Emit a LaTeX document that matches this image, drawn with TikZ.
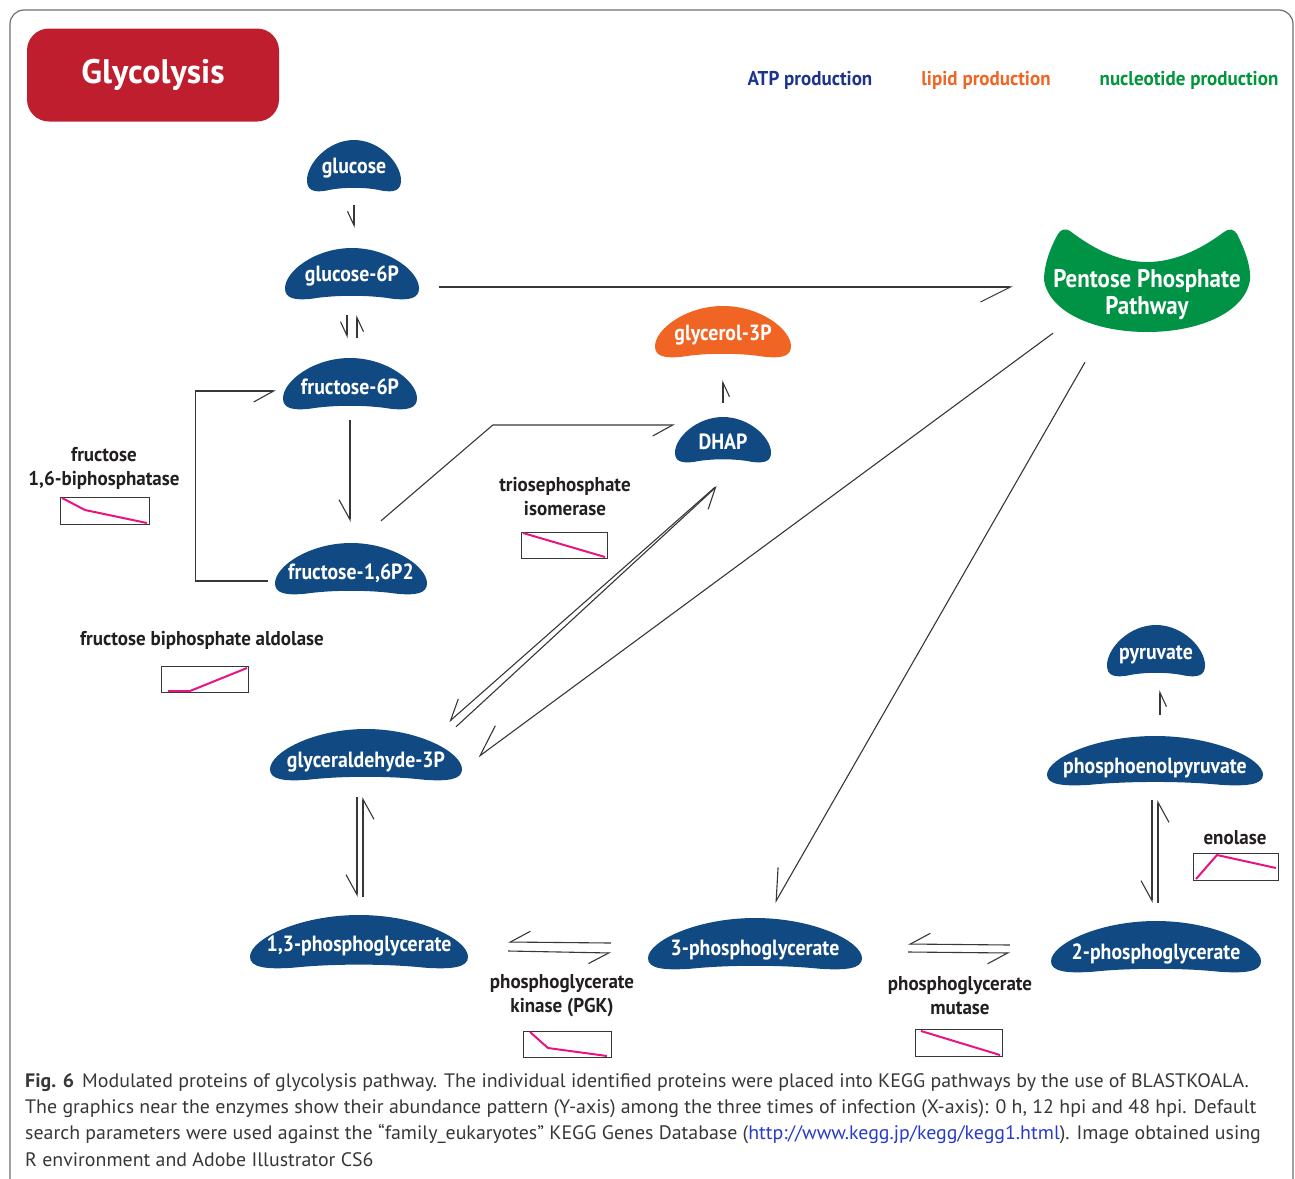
\documentclass[tikz,border=0pt]{standalone}
\usepackage{fontspec}
\setmainfont{PT Sans}
\newfontfamily\condf[FakeStretch=0.9]{PT Sans}
\newfontfamily\labf[FakeStretch=0.95]{PT Sans}
\newfontfamily\capf[FakeStretch=1.02]{PT Sans}
\usetikzlibrary{arrows.meta,calc}
\definecolor{navy}{RGB}{17,73,130}
\definecolor{orangem}{RGB}{240,101,36}
\definecolor{greenm}{RGB}{0,146,69}
\definecolor{crimson}{RGB}{190,30,45}
\definecolor{linec}{RGB}{55,55,55}
\definecolor{labc}{RGB}{35,31,32}
\definecolor{atpc}{RGB}{30,52,140}
\definecolor{lipc}{RGB}{240,101,36}
\definecolor{nucc}{RGB}{0,150,60}
\definecolor{trendc}{RGB}{232,20,130}
\definecolor{framec}{RGB}{110,110,110}
\definecolor{linkc}{RGB}{40,60,200}
\definecolor{capc}{RGB}{55,55,55}

\newcommand\crescent[5]{%
  \fill[#5] ({#1-#3},{#2+0.55*#4})
    .. controls ({#1-#3},{#2-0.1*#4}) and ({#1-0.55*#3},{#2-#4}) .. ({#1},{#2-#4})
    .. controls ({#1+0.55*#3},{#2-#4}) and ({#1+#3},{#2-0.1*#4}) .. ({#1+#3},{#2+0.55*#4})
    .. controls ({#1+#3},{#2+0.95*#4}) and ({#1+0.85*#3},{#2+1.02*#4}) .. ({#1+0.6*#3},{#2+0.95*#4})
    .. controls ({#1+0.25*#3},{#2+0.8*#4}) and ({#1-0.25*#3},{#2+0.8*#4}) .. ({#1-0.6*#3},{#2+0.95*#4})
    .. controls ({#1-0.85*#3},{#2+1.02*#4}) and ({#1-#3},{#2+0.95*#4}) .. cycle;}
% name, x, y, half width, half height, colour, text, text y
\newcommand\metab[8]{%
  \crescent{#2}{#3}{#4}{#5}{#6}
  \node[metbox, minimum width=#4*2pt, minimum height=#5*2pt] (#1) at (#2,#3) {};
  \node[met] (#1t) at (#2,#8) {#7};}

\tikzset{
  metbox/.style={inner sep=0pt},
  met/.style={inner sep=0pt, text=white, font=\condf\bfseries\fontsize{22}{24}\selectfont},
  rxn/.style={draw=linec, line width=1.1pt},
  hS/.style={-{Straight Barb[harpoon,swap,length=14pt,width=13pt]}},
  hM/.style={-{Straight Barb[harpoon,swap,length=20pt,width=22pt]}},
  hL/.style={-{Straight Barb[harpoon,swap,length=30pt,width=30pt]}},
  enz/.style={text=labc, align=center, font=\labf\bfseries\fontsize{20}{24}\selectfont},
  legend/.style={font=\labf\bfseries\fontsize{20}{22}\selectfont},
  chart/.style={draw=linec, line width=1.1pt, inner sep=0pt, anchor=north west},
  trend/.style={draw=trendc, line width=2pt},
  capt/.style={text=capc, inner sep=0pt, anchor=base west, font=\capf\fontsize{19.5}{26}\selectfont},
}

\begin{document}
\begin{tikzpicture}[x=1pt,y=-1pt]
\useasboundingbox (0,0) rectangle (1295,1178);
\draw[framec, line width=1.2pt, rounded corners=14pt] (10,1220) -- (10,10) -- (1293,10) -- (1293,1220);

% title and legend
\node[fill=crimson, rounded corners=22pt, minimum width=252pt, minimum height=93pt, text=white,
      font=\bfseries\fontsize{34}{36}\selectfont] (title) at (153,75) {Glycolysis};
\node[legend, text=atpc] (atp) at (810,80) {ATP production};
\node[legend, text=lipc] (lip) at (986,80) {lipid production};
\node[legend, text=nucc] (nuc) at (1189,80) {nucleotide production};

% metabolites
\metab{glc}{354}{166}{47}{26}{navy}{glucose}{168}
\metab{g6p}{352}{274}{67}{26}{navy}{glucose-6P}{276}
\metab{f6p}{350}{384}{67}{26}{navy}{fructose-6P}{387}
\metab{fbp}{351}{569}{76}{26}{navy}{fructose-1,6P2}{573}
\metab{gap}{366}{755}{96}{26}{navy}{glyceraldehyde-3P}{762}
\metab{bpg}{359}{942}{109}{27}{navy}{1,3-phosphoglycerate}{946}
\metab{pg3}{755}{944}{107}{26}{navy}{3-phosphoglycerate}{950}
\metab{pg2}{1156}{947}{105}{26}{navy}{2-phosphoglycerate}{954}
\metab{pep}{1155}{761}{108}{25}{navy}{phosphoenolpyruvate}{768}
\metab{pyr}{1156}{651}{49}{26}{navy}{pyruvate}{655}
\metab{dhap}{723}{440}{48}{23}{navy}{DHAP}{442}
\metab{g3p}{723}{332}{68}{26}{orangem}{glycerol-3P}{335}

% pentose phosphate pathway
\fill[greenm] (1070,231)
  .. controls (1095,250) and (1120,262) .. (1147,262)
  .. controls (1174,262) and (1200,250) .. (1224,232)
  .. controls (1229,228) and (1234,229) .. (1237,234)
  .. controls (1244,248) and (1251,265) .. (1250,280)
  .. controls (1245,312) and (1200,332) .. (1147,332)
  .. controls (1094,332) and (1049,312) .. (1044,280)
  .. controls (1044,265) and (1050,248) .. (1058,234)
  .. controls (1061,229) and (1066,228) .. cycle;
\node[metbox, minimum width=206pt, minimum height=102pt] (ppp) at (1147,281) {};
\node[met, align=center, font=\condf\bfseries\fontsize{25.5}{27}\selectfont] (pppt) at (1147,295) {Pentose Phosphate\\Pathway};

% reactions
\draw[rxn,hS] ($(glc.south)+(0,13)$) -- ($(glc.south |- g6p.north)+(0,-20)$);
\draw[rxn,hS] ($(g6p.south)+(-5,15)$) -- ($(g6p.south)+(-5,38)$);
\draw[rxn,hS] ($(g6p.south)+(5,38)$) -- ($(g6p.south)+(5,15)$);
\draw[rxn,hL] ($(g6p.east)+(20,13)$) -- ($(g6p.east -| ppp.west)+(-31,13)$);
\draw[rxn,hM] ($(f6p.south)+(0,10)$) -- ($(f6p.south |- fbp.north)+(0,-21)$);
\draw[rxn,hM] ($(fbp.west)+(-7,12)$) -| ($(f6p.west)+(-87,7)$) -- ($(f6p.west)+(-7,7)$);
\draw[rxn,hM] ($(fbp.north)+(30,-22)$) -- ($(dhap.west)+(-182,-15)$) -- ($(dhap.west)+(0,-15)$);
\draw[rxn,hS] ($(dhap.north)+(0,-14)$) -- ($(dhap.north |- g3p.south)+(0,22)$);
\draw[rxn,hM] ($(dhap.south)+(-8,24)$) -- ($(gap.north)+(83,-7)$);
\draw[rxn,hM] ($(gap.north)+(90,-2)$) -- ($(dhap.south)+(-6,23)$);
\draw[rxn,hL] ($(ppp.south)+(-94,1)$) -- ($(gap.east)+(16,2)$);
\draw[rxn,hL] ($(ppp.south)+(-62,30)$) -- ($(pg3.north)+(20,-15)$);
\draw[rxn,hM] ($(gap.south)+(-9,16)$) -- ($(gap.south |- bpg.north)+(-9,-18)$);
\draw[rxn,hM] ($(gap.south |- bpg.north)+(-3,-18)$) -- ($(gap.south)+(-3,16)$);
\draw[rxn,hM] ($(pg3.west)+(-37,-1)$) -- ($(bpg.east)+(40,0)$);
\draw[rxn,hM] ($(bpg.east)+(40,9)$) -- ($(pg3.west)+(-37,9)$);
\draw[rxn,hM] ($(pg2.west)+(-41,-2)$) -- ($(pg3.east)+(46,0)$);
\draw[rxn,hM] ($(pg3.east)+(46,8)$) -- ($(pg2.west)+(-41,6)$);
\draw[rxn,hM] ($(pep.south)+(-3,14)$) -- ($(pep.south |- pg2.north)+(-3,-18)$);
\draw[rxn,hM] ($(pep.south |- pg2.north)+(3,-18)$) -- ($(pep.south)+(3,14)$);
\draw[rxn,hS] ($(pep.north)+(5,-21)$) -- ($(pep.north |- pyr.south)+(5,13)$);

% enzymes
\node[enz] (e1) at (104,468) {fructose\\1,6-biphosphatase};
\node[enz] (e2) at (565,497) {triosephosphate\\isomerase};
\node[enz] (e3) at (202,640) {fructose biphosphate aldolase};
\node[enz] (e4) at (1235,838) {enolase};
\node[enz] (e5) at (562,996) {phosphoglycerate\\kinase (PGK)};
\node[enz] (e6) at (960,996) {phosphoglycerate\\mutase};

% abundance charts
\begin{scope}[shift={(60,497)}]
  \node[chart, minimum width=89pt, minimum height=27pt] (c1) at (0,0) {};
  \draw[trend] (2,1) -- (25,13) -- (87,26);
\end{scope}
\begin{scope}[shift={(521,532)}]
  \node[chart, minimum width=86pt, minimum height=26pt] (c2) at (0,0) {};
  \draw[trend] (2,1) -- (84,25);
\end{scope}
\begin{scope}[shift={(161,666)}]
  \node[chart, minimum width=87pt, minimum height=26pt] (c3) at (0,0) {};
  \draw[trend] (7,25) -- (29,25) -- (86,2);
\end{scope}
\begin{scope}[shift={(1193,853)}]
  \node[chart, minimum width=85pt, minimum height=27pt] (c4) at (0,0) {};
  \draw[trend] (3,26) -- (24,2) -- (83,15);
\end{scope}
\begin{scope}[shift={(523,1031)}]
  \node[chart, minimum width=88pt, minimum height=26pt] (c5) at (0,0) {};
  \draw[trend] (7,1) -- (25,17) -- (84,25);
\end{scope}
\begin{scope}[shift={(915,1029)}]
  \node[chart, minimum width=87pt, minimum height=27pt] (c6) at (0,0) {};
  \draw[trend] (6,2) -- (85,26);
\end{scope}

% caption
\node[capt] (cap1) at (25,1087) {\textbf{Fig. 6}\hspace{8pt}Modulated proteins of glycolysis pathway. The individual identified proteins were placed into KEGG pathways by the use of BLASTKOALA.};
\node[capt] (cap2) at (25,1113) {The graphics near the enzymes show their abundance pattern (Y-axis) among the three times of infection (X-axis): 0 h, 12 hpi and 48 hpi. Default};
\node[capt] (cap3) at (25,1139) {search parameters were used against the “family\_eukaryotes” KEGG Genes Database ({\color{linkc}http://www.kegg.jp/kegg/kegg1.html}). Image obtained using};
\node[capt] (cap4) at (25,1166) {R environment and Adobe Illustrator CS6};
\end{tikzpicture}
\end{document}
